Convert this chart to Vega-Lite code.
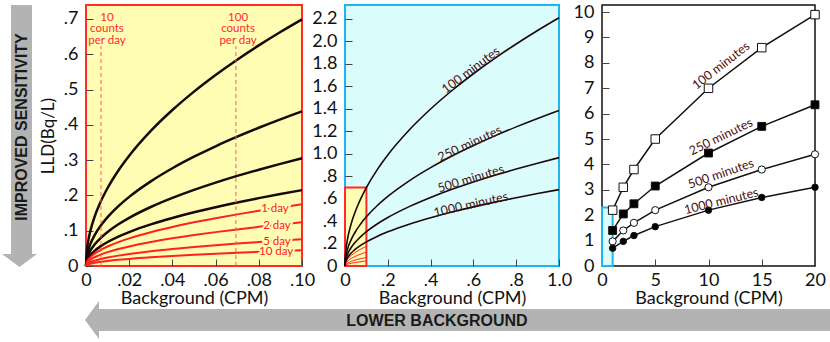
{
  "$schema": "https://vega.github.io/schema/vega-lite/v6.json",
  "padding": {"left": 0, "top": 2, "right": 0, "bottom": 0},
  "background": "white",
  "bounds": "flush",
  "spacing": 43,
  "config": {
    "font": "Lato",
    "axis": {"grid": false, "domain": false, "tickSize": -7, "tickColor": "#444", "tickWidth": 1, "tickCount": 30, "labelFont": "Lato", "labelFontSize": 18, "labelColor": "#111", "labelFlush": false, "labelOverlap": false, "titleFont": "Lato", "titleFontSize": 18, "titleFontWeight": "normal", "titleColor": "#111"},
    "axisX": {"labelPadding": 12, "titlePadding": 0},
    "axisY": {"labelPadding": 15, "titlePadding": 6, "titleFontSize": 17}
  },
  "datasets": {
    "minutes": [
      {"s":"100","x":0,"y":0},{"s":"100","x":0.0005,"y":0.0494},{"s":"100","x":0.001,"y":0.0699},{"s":"100","x":0.002,"y":0.0988},{"s":"100","x":0.004,"y":0.1398},{"s":"100","x":0.007,"y":0.1849},{"s":"100","x":0.01,"y":0.221},{"s":"100","x":0.015,"y":0.2707},{"s":"100","x":0.02,"y":0.3125},{"s":"100","x":0.03,"y":0.3828},{"s":"100","x":0.04,"y":0.442},{"s":"100","x":0.05,"y":0.4942},{"s":"100","x":0.06,"y":0.5413},{"s":"100","x":0.07,"y":0.5847},{"s":"100","x":0.08,"y":0.6251},{"s":"100","x":0.09,"y":0.663},{"s":"100","x":0.1,"y":0.6989},{"s":"100","x":0.15,"y":0.8559},{"s":"100","x":0.2,"y":0.9883},{"s":"100","x":0.3,"y":1.2105},{"s":"100","x":0.4,"y":1.3977},{"s":"100","x":0.5,"y":1.5627},{"s":"100","x":0.6,"y":1.7119},{"s":"100","x":0.7,"y":1.849},{"s":"100","x":0.8,"y":1.9767},{"s":"100","x":0.9,"y":2.0966},{"s":"100","x":1,"y":2.21},
      {"s":"250","x":0,"y":0},{"s":"250","x":0.0005,"y":0.031},{"s":"250","x":0.001,"y":0.0438},{"s":"250","x":0.002,"y":0.0619},{"s":"250","x":0.004,"y":0.0876},{"s":"250","x":0.007,"y":0.1159},{"s":"250","x":0.01,"y":0.1385},{"s":"250","x":0.015,"y":0.1696},{"s":"250","x":0.02,"y":0.1959},{"s":"250","x":0.03,"y":0.2399},{"s":"250","x":0.04,"y":0.277},{"s":"250","x":0.05,"y":0.3097},{"s":"250","x":0.06,"y":0.3393},{"s":"250","x":0.07,"y":0.3664},{"s":"250","x":0.08,"y":0.3917},{"s":"250","x":0.09,"y":0.4155},{"s":"250","x":0.1,"y":0.438},{"s":"250","x":0.15,"y":0.5364},{"s":"250","x":0.2,"y":0.6194},{"s":"250","x":0.3,"y":0.7586},{"s":"250","x":0.4,"y":0.876},{"s":"250","x":0.5,"y":0.9794},{"s":"250","x":0.6,"y":1.0728},{"s":"250","x":0.7,"y":1.1588},{"s":"250","x":0.8,"y":1.2388},{"s":"250","x":0.9,"y":1.3139},{"s":"250","x":1,"y":1.385},
      {"s":"500","x":0,"y":0},{"s":"500","x":0.0005,"y":0.0216},{"s":"500","x":0.001,"y":0.0305},{"s":"500","x":0.002,"y":0.0432},{"s":"500","x":0.004,"y":0.061},{"s":"500","x":0.007,"y":0.0807},{"s":"500","x":0.01,"y":0.0965},{"s":"500","x":0.015,"y":0.1182},{"s":"500","x":0.02,"y":0.1365},{"s":"500","x":0.03,"y":0.1672},{"s":"500","x":0.04,"y":0.193},{"s":"500","x":0.05,"y":0.2158},{"s":"500","x":0.06,"y":0.2364},{"s":"500","x":0.07,"y":0.2553},{"s":"500","x":0.08,"y":0.2729},{"s":"500","x":0.09,"y":0.2895},{"s":"500","x":0.1,"y":0.3052},{"s":"500","x":0.15,"y":0.3737},{"s":"500","x":0.2,"y":0.4316},{"s":"500","x":0.3,"y":0.5286},{"s":"500","x":0.4,"y":0.6103},{"s":"500","x":0.5,"y":0.6824},{"s":"500","x":0.6,"y":0.7475},{"s":"500","x":0.7,"y":0.8074},{"s":"500","x":0.8,"y":0.8631},{"s":"500","x":0.9,"y":0.9155},{"s":"500","x":1,"y":0.965},
      {"s":"1000","x":0,"y":0},{"s":"1000","x":0.0005,"y":0.0152},{"s":"1000","x":0.001,"y":0.0215},{"s":"1000","x":0.002,"y":0.0304},{"s":"1000","x":0.004,"y":0.043},{"s":"1000","x":0.007,"y":0.0569},{"s":"1000","x":0.01,"y":0.068},{"s":"1000","x":0.015,"y":0.0833},{"s":"1000","x":0.02,"y":0.0962},{"s":"1000","x":0.03,"y":0.1178},{"s":"1000","x":0.04,"y":0.136},{"s":"1000","x":0.05,"y":0.1521},{"s":"1000","x":0.06,"y":0.1666},{"s":"1000","x":0.07,"y":0.1799},{"s":"1000","x":0.08,"y":0.1923},{"s":"1000","x":0.09,"y":0.204},{"s":"1000","x":0.1,"y":0.215},{"s":"1000","x":0.15,"y":0.2634},{"s":"1000","x":0.2,"y":0.3041},{"s":"1000","x":0.3,"y":0.3725},{"s":"1000","x":0.4,"y":0.4301},{"s":"1000","x":0.5,"y":0.4808},{"s":"1000","x":0.6,"y":0.5267},{"s":"1000","x":0.7,"y":0.5689},{"s":"1000","x":0.8,"y":0.6082},{"s":"1000","x":0.9,"y":0.6451},{"s":"1000","x":1,"y":0.68}
    ],
    "days": [
      {"s":"1","x":0,"y":0},{"s":"1","x":0.0005,"y":0.0124},{"s":"1","x":0.001,"y":0.0175},{"s":"1","x":0.002,"y":0.0247},{"s":"1","x":0.004,"y":0.035},{"s":"1","x":0.007,"y":0.0463},{"s":"1","x":0.01,"y":0.0553},{"s":"1","x":0.015,"y":0.0677},{"s":"1","x":0.02,"y":0.0782},{"s":"1","x":0.03,"y":0.0958},{"s":"1","x":0.04,"y":0.1106},{"s":"1","x":0.05,"y":0.1237},{"s":"1","x":0.06,"y":0.1355},{"s":"1","x":0.07,"y":0.1463},{"s":"1","x":0.08,"y":0.1564},{"s":"1","x":0.09,"y":0.1659},{"s":"1","x":0.1,"y":0.1749},
      {"s":"2","x":0,"y":0},{"s":"2","x":0.0005,"y":0.0088},{"s":"2","x":0.001,"y":0.0124},{"s":"2","x":0.002,"y":0.0175},{"s":"2","x":0.004,"y":0.0248},{"s":"2","x":0.007,"y":0.0328},{"s":"2","x":0.01,"y":0.0392},{"s":"2","x":0.015,"y":0.048},{"s":"2","x":0.02,"y":0.0554},{"s":"2","x":0.03,"y":0.0679},{"s":"2","x":0.04,"y":0.0784},{"s":"2","x":0.05,"y":0.0877},{"s":"2","x":0.06,"y":0.096},{"s":"2","x":0.07,"y":0.1037},{"s":"2","x":0.08,"y":0.1109},{"s":"2","x":0.09,"y":0.1176},{"s":"2","x":0.1,"y":0.124},
      {"s":"5","x":0,"y":0},{"s":"5","x":0.0005,"y":0.0054},{"s":"5","x":0.001,"y":0.0076},{"s":"5","x":0.002,"y":0.0107},{"s":"5","x":0.004,"y":0.0152},{"s":"5","x":0.007,"y":0.0201},{"s":"5","x":0.01,"y":0.024},{"s":"5","x":0.015,"y":0.0294},{"s":"5","x":0.02,"y":0.0339},{"s":"5","x":0.03,"y":0.0416},{"s":"5","x":0.04,"y":0.048},{"s":"5","x":0.05,"y":0.0537},{"s":"5","x":0.06,"y":0.0588},{"s":"5","x":0.07,"y":0.0635},{"s":"5","x":0.08,"y":0.0679},{"s":"5","x":0.09,"y":0.072},{"s":"5","x":0.1,"y":0.0759},
      {"s":"10","x":0,"y":0},{"s":"10","x":0.0005,"y":0.0032},{"s":"10","x":0.001,"y":0.0045},{"s":"10","x":0.002,"y":0.0064},{"s":"10","x":0.004,"y":0.009},{"s":"10","x":0.007,"y":0.0119},{"s":"10","x":0.01,"y":0.0142},{"s":"10","x":0.015,"y":0.0174},{"s":"10","x":0.02,"y":0.0201},{"s":"10","x":0.03,"y":0.0246},{"s":"10","x":0.04,"y":0.0284},{"s":"10","x":0.05,"y":0.0318},{"s":"10","x":0.06,"y":0.0348},{"s":"10","x":0.07,"y":0.0376},{"s":"10","x":0.08,"y":0.0402},{"s":"10","x":0.09,"y":0.0426},{"s":"10","x":0.1,"y":0.0449}
    ],
    "pts": [
      {"s":"100 minutes","x":1,"y":2.2},{"s":"100 minutes","x":2,"y":3.1},{"s":"100 minutes","x":3,"y":3.8},{"s":"100 minutes","x":5,"y":5.0},{"s":"100 minutes","x":10,"y":7.0},{"s":"100 minutes","x":15,"y":8.6},{"s":"100 minutes","x":20,"y":9.9},
      {"s":"250 minutes","x":1,"y":1.4},{"s":"250 minutes","x":2,"y":2.05},{"s":"250 minutes","x":3,"y":2.45},{"s":"250 minutes","x":5,"y":3.15},{"s":"250 minutes","x":10,"y":4.45},{"s":"250 minutes","x":15,"y":5.5},{"s":"250 minutes","x":20,"y":6.35},
      {"s":"500 minutes","x":1,"y":0.97},{"s":"500 minutes","x":2,"y":1.4},{"s":"500 minutes","x":3,"y":1.7},{"s":"500 minutes","x":5,"y":2.2},{"s":"500 minutes","x":10,"y":3.1},{"s":"500 minutes","x":15,"y":3.8},{"s":"500 minutes","x":20,"y":4.4},
      {"s":"1000 minutes","x":1,"y":0.7},{"s":"1000 minutes","x":2,"y":0.97},{"s":"1000 minutes","x":3,"y":1.2},{"s":"1000 minutes","x":5,"y":1.55},{"s":"1000 minutes","x":10,"y":2.2},{"s":"1000 minutes","x":15,"y":2.7},{"s":"1000 minutes","x":20,"y":3.1}
    ]
  },
  "hconcat": [
    {
      "width": 216, "height": 261,
      "view": {"fill": "#fffcb4", "stroke": "#ff2b2b", "strokeWidth": 2},
      "layer": [
        {
          "data": {"name": "minutes"},
          "transform": [{"filter": "datum.x <= 0.1001"}],
          "mark": {"type": "line", "color": "#1a0808", "strokeWidth": 2.5, "interpolate": "monotone"},
          "encoding": {
            "x": {"field": "x", "type": "quantitative", "scale": {"domain": [0, 0.1], "nice": false, "zero": false},
                  "axis": {"title": "Background (CPM)", "values": [0, 0.02, 0.04, 0.06, 0.08, 0.1], "tickCount": 30, "labelOverlap": false, "labelExpr": "datum.value == 0 ? '0' : replace(format(datum.value, '.2f'), '0.', '.')"}},
            "y": {"field": "y", "type": "quantitative", "scale": {"domain": [0, 0.7396], "nice": false, "zero": false},
                  "axis": {"title": "LLD(Bq/L)", "values": [0, 0.1, 0.2, 0.3, 0.4, 0.5, 0.6, 0.7], "tickCount": 30, "labelOverlap": false, "labelExpr": "datum.value == 0 ? '0' : replace(format(datum.value, '.1f'), '0.', '.')"}},
            "detail": {"field": "s"}
          }
        },
        {
          "data": {"name": "days"},
          "mark": {"type": "line", "color": "#ff2020", "strokeWidth": 2, "interpolate": "monotone"},
          "encoding": {
            "x": {"field": "x", "type": "quantitative"},
            "y": {"field": "y", "type": "quantitative"},
            "detail": {"field": "s"}
          }
        },
        {
          "data": {"values": [{"c": 0.00694}, {"c": 0.0694}]},
          "mark": {"type": "rule", "color": "#ff5a5a", "strokeWidth": 1, "strokeDash": [4, 3]},
          "encoding": {
            "x": {"field": "c", "type": "quantitative"},
            "y": {"datum": 0},
            "y2": {"datum": 0.623}
          }
        },
        {
          "data": {"values": [{"label": "10\ncounts\nper day", "c": 0.0097}, {"label": "100\ncounts\nper day", "c": 0.0704}]},
          "mark": {"type": "text", "lineBreak": "\n", "baseline": "top", "align": "center", "fontSize": 11.5, "lineHeight": 11.5, "color": "#ff2b2b"},
          "encoding": {
            "x": {"field": "c", "type": "quantitative"},
            "y": {"datum": 0.7198},
            "text": {"field": "label"}
          }
        },
        {
          "data": {"values": [{"label": "1 day", "c": 0.0875, "v": 0.162}, {"label": "2 day", "c": 0.0884, "v": 0.113}, {"label": "5 day", "c": 0.0884, "v": 0.069}, {"label": "10 day", "c": 0.088, "v": 0.039}]},
          "mark": {"type": "text", "fontSize": 11.5, "color": "#fffcb4", "stroke": "#fffcb4", "strokeWidth": 4, "baseline": "middle"},
          "encoding": {"x": {"field": "c", "type": "quantitative"}, "y": {"field": "v", "type": "quantitative"}, "text": {"field": "label"}}
        },
        {
          "data": {"values": [{"label": "1 day", "c": 0.0875, "v": 0.162}, {"label": "2 day", "c": 0.0884, "v": 0.113}, {"label": "5 day", "c": 0.0884, "v": 0.069}, {"label": "10 day", "c": 0.088, "v": 0.039}]},
          "mark": {"type": "text", "fontSize": 11.5, "color": "#ff2020", "baseline": "middle"},
          "encoding": {"x": {"field": "c", "type": "quantitative"}, "y": {"field": "v", "type": "quantitative"}, "text": {"field": "label"}}
        },
        {
          "data": {"values": [{}]},
          "mark": {"type": "rect", "color": "#b3b3b3"},
          "encoding": {"x": {"datum": -0.03472}, "x2": {"datum": -0.025}, "y": {"datum": 0.7396}, "y2": {"datum": 0.0312}}
        },
        {
          "data": {"values": [{}]},
          "mark": {"type": "point", "shape": "M -1 -0.37 L 1 -0.37 L 0 0.37 Z", "size": 1225, "filled": true, "color": "#b3b3b3", "opacity": 1},
          "encoding": {"x": {"datum": -0.03079}, "y": {"datum": 0.01559}}
        },
        {
          "data": {"values": [{}]},
          "mark": {"type": "text", "text": "IMPROVED SENSITIVITY", "angle": 270, "font": "Liberation Sans", "fontWeight": "bold", "fontSize": 16, "color": "#1a1a1a", "align": "center", "baseline": "middle"},
          "encoding": {"x": {"datum": -0.02986}, "y": {"datum": 0.3939}}
        },
        {
          "data": {"values": [{}]},
          "mark": {"type": "rect", "color": "#b3b3b3"},
          "encoding": {"x": {"datum": 0.005556}, "x2": {"datum": 0.34444}, "y": {"datum": -0.12185}, "y2": {"datum": -0.18419}}
        },
        {
          "data": {"values": [{}]},
          "mark": {"type": "point", "shape": "M 0.37 -1 L -0.37 0 L 0.37 1 Z", "size": 1444, "filled": true, "color": "#b3b3b3", "opacity": 1},
          "encoding": {"x": {"datum": 0.002778}, "y": {"datum": -0.15302}}
        },
        {
          "data": {"values": [{}]},
          "mark": {"type": "text", "text": "LOWER BACKGROUND", "font": "Liberation Sans", "fontWeight": "bold", "fontSize": 16, "color": "#1a1a1a", "align": "center", "baseline": "middle"},
          "encoding": {"x": {"datum": 0.1625}, "y": {"datum": -0.15585}}
        }
      ]
    },
    {
      "width": 214, "height": 261,
      "view": {"fill": "#dafcfd", "stroke": "#1cb5ef", "strokeWidth": 2},
      "layer": [
        {
          "data": {"values": [{}]},
          "mark": {"type": "rect", "fill": "#fffcb4", "stroke": "#ff2b2b", "strokeWidth": 2},
          "encoding": {"x": {"datum": 0}, "x2": {"datum": 0.1}, "y": {"datum": 0}, "y2": {"datum": 0.7}}
        },
        {
          "data": {"name": "days"},
          "mark": {"type": "line", "color": "#ff2020", "strokeWidth": 1, "interpolate": "monotone"},
          "encoding": {
            "x": {"field": "x", "type": "quantitative"},
            "y": {"field": "y", "type": "quantitative"},
            "detail": {"field": "s"}
          }
        },
        {
          "data": {"name": "minutes"},
          "mark": {"type": "line", "color": "#1a0808", "strokeWidth": 1.6, "interpolate": "monotone"},
          "encoding": {
            "x": {"field": "x", "type": "quantitative", "scale": {"domain": [0, 1], "nice": false, "zero": false},
                  "axis": {"title": "Background (CPM)", "values": [0, 0.2, 0.4, 0.6, 0.8, 1.0], "tickCount": 30, "labelOverlap": false, "labelExpr": "datum.value == 0 ? '0' : replace(format(datum.value, '.1f'), '0.', '.')"}},
            "y": {"field": "y", "type": "quantitative", "scale": {"domain": [0, 2.324], "nice": false, "zero": false},
                  "axis": {"title": null, "values": [0, 0.2, 0.4, 0.6, 0.8, 1.0, 1.2, 1.4, 1.6, 1.8, 2.0, 2.2], "tickCount": 30, "labelOverlap": false, "labelExpr": "datum.value == 0 ? '0' : replace(format(datum.value, '.1f'), '0.', '.')"}},
            "detail": {"field": "s"}
          }
        },
        {
          "data": {"values": [{"label": "100 minutes", "c": 0.588, "v": 1.744}]},
          "mark": {"type": "text", "angle": 323, "fontSize": 12.5, "color": "#4a1010", "align": "center", "baseline": "middle"},
          "encoding": {"x": {"field": "c", "type": "quantitative"}, "y": {"field": "v", "type": "quantitative"}, "text": {"field": "label"}}
        },
        {
          "data": {"values": [{"label": "250 minutes", "c": 0.583, "v": 1.089}]},
          "mark": {"type": "text", "angle": 335, "fontSize": 12.5, "color": "#4a1010", "align": "center", "baseline": "middle"},
          "encoding": {"x": {"field": "c", "type": "quantitative"}, "y": {"field": "v", "type": "quantitative"}, "text": {"field": "label"}}
        },
        {
          "data": {"values": [{"label": "500 minutes", "c": 0.588, "v": 0.777}]},
          "mark": {"type": "text", "angle": 343, "fontSize": 12.5, "color": "#4a1010", "align": "center", "baseline": "middle"},
          "encoding": {"x": {"field": "c", "type": "quantitative"}, "y": {"field": "v", "type": "quantitative"}, "text": {"field": "label"}}
        },
        {
          "data": {"values": [{"label": "1000 minutes", "c": 0.588, "v": 0.547}]},
          "mark": {"type": "text", "angle": 347, "fontSize": 12.5, "color": "#4a1010", "align": "center", "baseline": "middle"},
          "encoding": {"x": {"field": "c", "type": "quantitative"}, "y": {"field": "v", "type": "quantitative"}, "text": {"field": "label"}}
        }
      ]
    },
    {
      "width": 213, "height": 261,
      "view": {"fill": "white", "stroke": "#111", "strokeWidth": 1.5},
      "layer": [
        {
          "data": {"values": [{}]},
          "mark": {"type": "rect", "fill": "#dafcfd", "stroke": "#1cb5ef", "strokeWidth": 2},
          "encoding": {"x": {"datum": 0}, "x2": {"datum": 1}, "y": {"datum": 0}, "y2": {"datum": 2.3}}
        },
        {
          "data": {"name": "pts"},
          "mark": {"type": "line", "color": "#111", "strokeWidth": 1.5},
          "encoding": {
            "x": {"field": "x", "type": "quantitative", "scale": {"domain": [0, 20], "nice": false, "zero": false},
                  "axis": {"title": "Background (CPM)", "values": [0, 5, 10, 15, 20], "tickCount": 30, "format": "d", "labelOverlap": false}},
            "y": {"field": "y", "type": "quantitative", "scale": {"domain": [0, 10.28], "nice": false, "zero": false},
                  "axis": {"title": null, "values": [0, 1, 2, 3, 4, 5, 6, 7, 8, 9, 10], "tickCount": 30, "format": "d", "labelOverlap": false}},
            "detail": {"field": "s"}
          }
        },
        {
          "data": {"name": "pts"},
          "mark": {"type": "point", "stroke": "#111", "strokeWidth": 1, "opacity": 1, "fillOpacity": 1},
          "encoding": {
            "x": {"field": "x", "type": "quantitative"},
            "y": {"field": "y", "type": "quantitative"},
            "shape": {"field": "s", "type": "nominal", "scale": {"domain": ["100 minutes", "250 minutes", "500 minutes", "1000 minutes"], "range": ["square", "square", "circle", "circle"]}, "legend": null},
            "fill": {"field": "s", "type": "nominal", "scale": {"domain": ["100 minutes", "250 minutes", "500 minutes", "1000 minutes"], "range": ["white", "black", "white", "black"]}, "legend": null},
            "size": {"field": "s", "type": "nominal", "scale": {"domain": ["100 minutes", "250 minutes", "500 minutes", "1000 minutes"], "range": [72, 42, 72, 72]}, "legend": null}
          }
        },
        {
          "data": {"values": [{"label": "100 minutes", "c": 11.17, "v": 7.89}]},
          "mark": {"type": "text", "angle": 322, "fontSize": 12.5, "color": "#4a1010", "align": "center", "baseline": "middle"},
          "encoding": {"x": {"field": "c", "type": "quantitative"}, "y": {"field": "v", "type": "quantitative"}, "text": {"field": "label"}}
        },
        {
          "data": {"values": [{"label": "250 minutes", "c": 11.17, "v": 5.09}]},
          "mark": {"type": "text", "angle": 334, "fontSize": 12.5, "color": "#4a1010", "align": "center", "baseline": "middle"},
          "encoding": {"x": {"field": "c", "type": "quantitative"}, "y": {"field": "v", "type": "quantitative"}, "text": {"field": "label"}}
        },
        {
          "data": {"values": [{"label": "500 minutes", "c": 11.17, "v": 3.63}]},
          "mark": {"type": "text", "angle": 341, "fontSize": 12.5, "color": "#4a1010", "align": "center", "baseline": "middle"},
          "encoding": {"x": {"field": "c", "type": "quantitative"}, "y": {"field": "v", "type": "quantitative"}, "text": {"field": "label"}}
        },
        {
          "data": {"values": [{"label": "1000 minutes", "c": 11.2, "v": 2.55}]},
          "mark": {"type": "text", "angle": 346, "fontSize": 12.5, "color": "#4a1010", "align": "center", "baseline": "middle"},
          "encoding": {"x": {"field": "c", "type": "quantitative"}, "y": {"field": "v", "type": "quantitative"}, "text": {"field": "label"}}
        }
      ]
    }
  ]
}
